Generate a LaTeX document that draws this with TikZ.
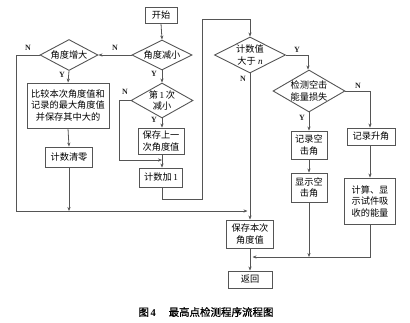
\documentclass[tikz,border=0pt]{standalone}
\usepackage{fontspec}
\setmainfont{Liberation Serif}
\newfontfamily\cjk{Noto Sans CJK SC}
\newfontfamily\cjkb[FakeBold=1]{Noto Sans CJK SC}
\usetikzlibrary{shapes.geometric,arrows.meta}
\definecolor{ln}{HTML}{555555}
\tikzset{
  every picture/.style={x=1pt,y=-1pt},
  box/.style={draw=ln,line width=0.9pt,inner sep=0pt,align=center,font=\cjk\fontsize{9.2}{11.5}\selectfont,fill=white},
  dia/.style={draw=ln,line width=0.9pt,diamond,inner sep=0pt},
  dtxt/.style={inner sep=0pt,align=center,font=\cjk\fontsize{9.2}{11.5}\selectfont},
  lbl/.style={inner sep=0pt,font=\fontsize{8}{8}\selectfont\bfseries,text=black!85},
  con/.style={draw=ln,line width=0.8pt},
  arr/.style={con,-{Stealth[length=4pt,width=3.2pt]}},
}
\begin{document}
\begin{tikzpicture}
\useasboundingbox (0,0) rectangle (410,322);
% nodes
\node[box,minimum width=32pt,minimum height=16pt] (start) at (161,15) {开始};
\node[dia,minimum width=60pt,minimum height=30pt] (d1) at (162,55) {};
\node[dtxt] at (d1) {角度减小};
\node[dia,minimum width=58pt,minimum height=31pt] (d2) at (69,55) {};
\node[dtxt] at (d2) {角度增大};
\node[box,minimum width=82pt,minimum height=45pt] (cmp) at (68,105.5) {比较本次角度值和\\记录的最大角度值\\并保存其中大的};
\node[box,minimum width=47pt,minimum height=20pt] (clr) at (69,157) {计数清零};
\node[dia,minimum width=62pt,minimum height=35pt] (d3) at (162,100.5) {};
\node[dtxt] at (d3) {第{\rmfamily\,1\,}次\\减小};
\node[box,minimum width=46pt,minimum height=26pt] (save1) at (161,141) {保存上一\\次角度值};
\node[box,minimum width=43pt,minimum height=19pt] (inc) at (161,177.5) {计数加{\rmfamily\,1}};
\node[dia,minimum width=71pt,minimum height=36pt] (d4) at (250,55) {};
\node[dtxt] at (d4) {计数值\\大于{\rmfamily\itshape\ n}};
\node[dia,minimum width=72pt,minimum height=42pt] (d5) at (309,91) {};
\node[dtxt] at (d5) {检测空击\\能量损失};
\node[box,minimum width=36pt,minimum height=28pt] (rec) at (309,145) {记录空\\击角};
\node[box,minimum width=48pt,minimum height=17pt] (rise) at (371,136.5) {记录升角};
\node[box,minimum width=36pt,minimum height=29pt] (disp) at (309,187.5) {显示空\\击角};
\node[box,minimum width=51pt,minimum height=46pt] (calc) at (370,201) {计算、显\\示试件吸\\收的能量};
\node[box,minimum width=47pt,minimum height=28pt] (save2) at (250,234) {保存本次\\角度值};
\node[box,minimum width=44pt,minimum height=17pt] (ret) at (250,279.5) {返回};
% coordinates
\coordinate (m1) at (250,211);
\coordinate (m2) at (162,160);
\coordinate (m3) at (250,257);
% connectors
\draw[arr] (start.south) -- (d1.north);
\draw[arr] (d1.west) -- (d2.east);
\draw[arr] (d2.south) -- (cmp.north);
\draw[arr] (cmp.south) -- (clr.north);
\draw[con] (d2.west) -- (16,55) -- (16,211) -- (clr.south |- m1);
\draw[arr] (clr.south |- m1) -- (247.5,211);
\draw[arr] (clr.south) -- (clr.south |- m1);
\draw[arr] (d1.south) -- (d3.north);
\draw[arr] (d3.south) -- (save1.north -| d3.south);
\draw[con] (d3.west) -- (119,100.5) -- (119,160) -- (158,160);
\draw[arr] (119,160) -- (m2);
\draw[arr] (save1.south -| d3.south) -- (inc.north -| d3.south);
\draw[arr] (inc.south -| d3.south) -- (162,199) -- (202,199) -- (202,19) -- (250,19) -- (d4.north);
\draw[arr] (d4.east) -- (308,55) -- (d5.north -| 308,0);
\draw[arr] (d4.south) -- (save2.north);
\draw[arr] (d5.east) -- (370,91) -- (rise.north -| 370,0);
\draw[arr] (d5.south) -- (rec.north);
\draw[arr] (rec.south) -- (disp.north);
\draw[arr] (rise.south -| 370,0) -- (calc.north -| 370,0);
\draw[arr] (disp.south) -- (disp.south |- m3);
\draw[arr] (calc.south -| 370,0) -- (370,257) -- (252.5,257);
\draw[arr] (save2.south) -- (ret.north);
% labels
\node[lbl] at (115,48) {N};
\node[lbl] at (28,48) {N};
\node[lbl] at (62,75) {Y};
\node[lbl] at (154,74) {Y};
\node[lbl] at (125,92) {N};
\node[lbl] at (154,120) {Y};
\node[lbl] at (297,50) {Y};
\node[lbl] at (243,79) {N};
\node[lbl] at (358,86) {N};
\node[lbl] at (302,118) {Y};
% caption
\node[inner sep=0pt,font=\cjkb\fontsize{10.5}{12}\selectfont] (cap) at (206,312) {图{\rmfamily\bfseries\,4}\hspace{1.2em}最高点检测程序流程图};
\end{tikzpicture}
\end{document}
